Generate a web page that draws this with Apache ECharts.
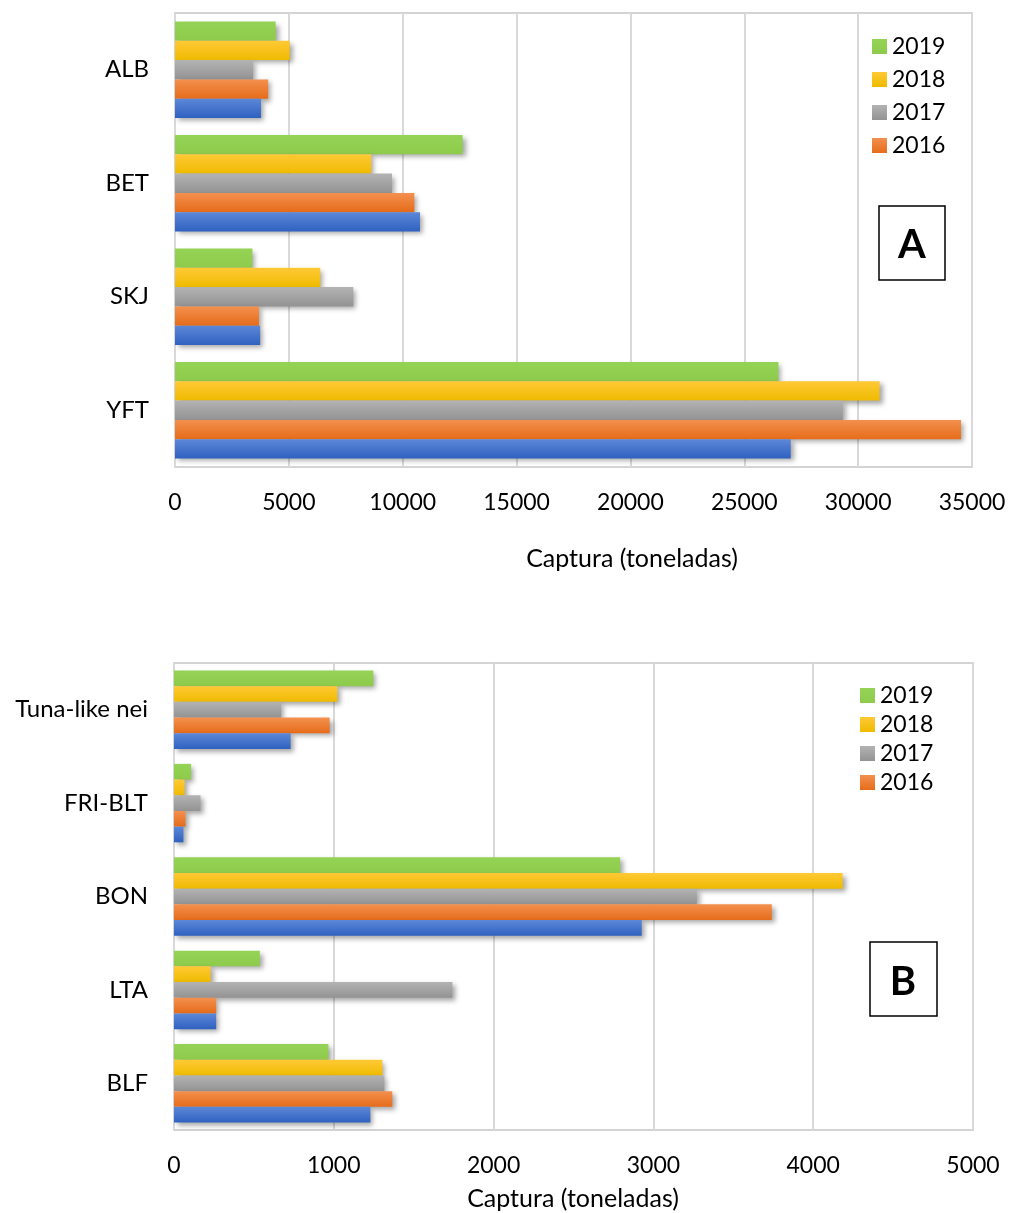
<!DOCTYPE html>
<html>
<head>
<meta charset="utf-8">
<script src="https://cdn.jsdelivr.net/npm/echarts@6/dist/echarts.min.js"></script>
<style>
  html, body { margin: 0; padding: 0; background: #ffffff; }
  #chart { width: 1010px; height: 1213px; }
</style>
</head>
<body>
<div id="chart"></div>
<script>
// Panel A: principal tunas
const catsA = ['YFT', 'SKJ', 'BET', 'ALB'];
const a2019 = [26500, 3400, 12630, 4420];
const a2018 = [30940, 6380, 8620, 5040];
const a2017 = [29330, 7830, 9530, 3430];
const a2016 = [34520, 3690, 10510, 4090];
const a2015 = [27040, 3740, 10760, 3780];
const ticksA = { min: 0, max: 35000, interval: 5000 };

// Panel B: other tuna and tuna-like species
const catsB = ['BLF', 'LTA', 'BON', 'FRI-BLT', 'Tuna-like nei'];
const b2019 = [966, 537, 2792, 107, 1247];
const b2018 = [1304, 229, 4184, 66, 1022];
const b2017 = [1316, 1742, 3272, 166, 671];
const b2016 = [1366, 264, 3741, 72, 974];
const b2015 = [1229, 264, 2927, 59, 730];
const ticksB = { min: 0, max: 5000, interval: 1000 };

const years = ['2019', '2018', '2017', '2016', '2015'];
const legendYears = ['2019', '2018', '2017', '2016'];
const axisTitle = 'Captura (toneladas)';

const FONT = 'Lato, "Open Sans", sans-serif';

function grad(top, bottom) {
  return {
    type: 'linear', x: 0, y: 0, x2: 0, y2: 1,
    colorStops: [{ offset: 0, color: top }, { offset: 1, color: bottom }]
  };
}
const fills = {
  '2019': grad('#95d356', '#8ecb4c'),
  '2018': grad('#ffc936', '#efbb00'),
  '2017': grad('#b3b3b3', '#939393'),
  '2016': grad('#f3904f', '#e66c1a'),
  '2015': grad('#5d88d8', '#2f61c0')
};

function barSeries(name, data, idx) {
  return {
    name: name,
    type: 'bar',
    xAxisIndex: idx,
    yAxisIndex: idx,
    data: data,
    barGap: '0%',
    barCategoryGap: idx === 0 ? '15%' : '16%',
    itemStyle: {
      color: fills[name],
      shadowColor: 'rgba(0,0,0,0.35)',
      shadowBlur: 5,
      shadowOffsetX: 3,
      shadowOffsetY: 3
    }
  };
}

function valueAxis(idx, t) {
  return {
    type: 'value',
    gridIndex: idx,
    min: t.min, max: t.max, interval: t.interval,
    axisLine: { show: false },
    axisTick: { show: false },
    axisLabel: {
      color: '#000', fontSize: 23, fontFamily: FONT, margin: 24,
      formatter: v => String(v)
    },
    splitLine: { show: true, lineStyle: { color: '#d9d9d9', width: 2 } }
  };
}
function catAxis(idx, cats) {
  return {
    type: 'category',
    gridIndex: idx,
    data: cats,
    axisLine: { show: false },
    axisTick: { show: false },
    axisLabel: { color: '#000', fontSize: 24, fontFamily: FONT, margin: 26 }
  };
}

const dataA = [a2019, a2018, a2017, a2016, a2015];
const dataB = [b2019, b2018, b2017, b2016, b2015];

const option = {
  backgroundColor: '#ffffff',
  animation: false,
  grid: [
    { left: 175, right: 38, top: 13, height: 454, show: true, borderColor: '#d4d4d4', borderWidth: 2, backgroundColor: 'transparent' },
    { left: 174, right: 37, top: 663, height: 467, show: true, borderColor: '#d4d4d4', borderWidth: 2, backgroundColor: 'transparent' }
  ],
  xAxis: [valueAxis(0, ticksA), valueAxis(1, ticksB)],
  yAxis: [catAxis(0, catsA), catAxis(1, catsB)],
  legend: [
    {
      data: legendYears, orient: 'vertical', left: 867, top: 30,
      icon: 'rect', itemWidth: 15, itemHeight: 15, itemGap: 10,
      textStyle: { color: '#000', fontSize: 23, fontFamily: FONT }
    },
    {
      data: legendYears, orient: 'vertical', left: 855, top: 679,
      icon: 'rect', itemWidth: 15, itemHeight: 15, itemGap: 6,
      textStyle: { color: '#000', fontSize: 23, fontFamily: FONT }
    }
  ],
  series: years.map((y, i) => barSeries(y, dataA[i], 0))
    .concat(years.map((y, i) => barSeries(y, dataB[i], 1))),
  graphic: [
    {
      type: 'text', x: 632, y: 559,
      style: { text: axisTitle, fill: '#000', font: '25px ' + FONT, textAlign: 'center', textVerticalAlign: 'middle' }
    },
    {
      type: 'text', x: 573, y: 1199,
      style: { text: axisTitle, fill: '#000', font: '25px ' + FONT, textAlign: 'center', textVerticalAlign: 'middle' }
    },
    {
      type: 'rect', shape: { x: 879, y: 206, width: 66, height: 74 },
      style: { fill: '#fff', stroke: '#000', lineWidth: 1.5 }
    },
    {
      type: 'text', x: 912, y: 245,
      style: { text: 'A', fill: '#000', font: 'bold 40px ' + FONT, textAlign: 'center', textVerticalAlign: 'middle' }
    },
    {
      type: 'rect', shape: { x: 870, y: 942, width: 67, height: 74 },
      style: { fill: '#fff', stroke: '#000', lineWidth: 1.5 }
    },
    {
      type: 'text', x: 903, y: 982,
      style: { text: 'B', fill: '#000', font: 'bold 40px ' + FONT, textAlign: 'center', textVerticalAlign: 'middle' }
    }
  ]
};

const chart = echarts.init(document.getElementById('chart'), null, { renderer: 'canvas' });
chart.setOption(option);
</script>
</body>
</html>
